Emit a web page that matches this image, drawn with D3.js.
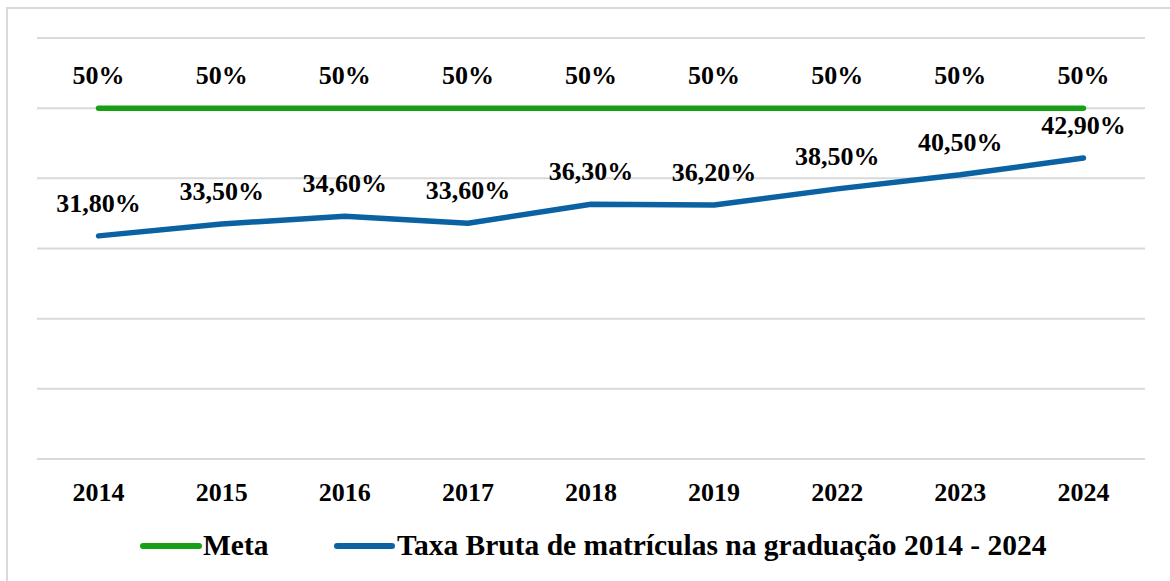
<!DOCTYPE html>
<html><head><meta charset="utf-8">
<script src="https://cdn.jsdelivr.net/npm/d3@7"></script>
<style>html,body{margin:0;padding:0;background:#fff;}svg{display:block;}</style>
</head><body>
<script>
const years = ["2014","2015","2016","2017","2018","2019","2022","2023","2024"];
const meta = [50,50,50,50,50,50,50,50,50];
const taxa = [31.8,33.5,34.6,33.6,36.3,36.2,38.5,40.5,42.9];
const metaLabels = ["50%","50%","50%","50%","50%","50%","50%","50%","50%"];
const taxaLabels = ["31,80%","33,50%","34,60%","33,60%","36,30%","36,20%","38,50%","40,50%","42,90%"];
const yTicks = [0,10,20,30,40,50,60];
const legendNames = ["Meta","Taxa Bruta de matrículas na graduação 2014 - 2024"];

const W = 1170, H = 581;
const green = "#17a015", blue = "#0b62a3";
const font = "'Liberation Serif','Times New Roman',serif";

const svg = d3.select("body").append("svg").attr("width", W).attr("height", H);
svg.append("rect").attr("x",7).attr("y",8).attr("width",1200).attr("height",600)
  .attr("fill","#fff").attr("stroke","#d9d9d9").attr("stroke-width",2);

const x = d3.scalePoint().domain(years).range([37,1145]).padding(0.5);
const y = d3.scaleLinear().domain([0,60]).range([459,38]);

svg.append("g").selectAll("line").data(yTicks).join("line")
  .attr("x1",37).attr("x2",1145).attr("y1",d=>y(d)).attr("y2",d=>y(d))
  .attr("stroke","#d9d9d9").attr("stroke-width",2);

const line = d3.line().x((d,i)=>x(years[i])).y(d=>y(d));
svg.append("path").datum(meta).attr("d",line).attr("fill","none")
  .attr("stroke",green).attr("stroke-width",5.5).attr("stroke-linecap","round");
svg.append("path").datum(taxa).attr("d",line).attr("fill","none")
  .attr("stroke",blue).attr("stroke-width",5.5).attr("stroke-linecap","round").attr("stroke-linejoin","round");

function labels(vals, texts){
  svg.append("g").selectAll("text").data(vals).join("text")
    .attr("x",(d,i)=>x(years[i])).attr("y",d=>y(d)-24)
    .attr("text-anchor","middle").attr("font-family",font).attr("font-weight","bold")
    .attr("font-size",26).attr("fill","#000").text((d,i)=>texts[i]);
}
labels(meta, metaLabels);
labels(taxa, taxaLabels);

svg.append("g").selectAll("text").data(years).join("text")
  .attr("x",d=>x(d)).attr("y",501).attr("text-anchor","middle")
  .attr("font-family",font).attr("font-weight","bold").attr("font-size",26).attr("fill","#000").text(d=>d);

const leg = [{c:green,x1:143,x2:199,tx:203},{c:blue,x1:337,x2:392,tx:397}];
leg.forEach((l,i)=>{
  svg.append("line").attr("x1",l.x1).attr("x2",l.x2).attr("y1",546).attr("y2",546)
    .attr("stroke",l.c).attr("stroke-width",6).attr("stroke-linecap","round");
  svg.append("text").attr("x",l.tx).attr("y",555).attr("font-family",font).attr("font-weight","bold")
    .attr("font-size",29.5).attr("fill","#000").text(legendNames[i]);
});
</script>
</body></html>
